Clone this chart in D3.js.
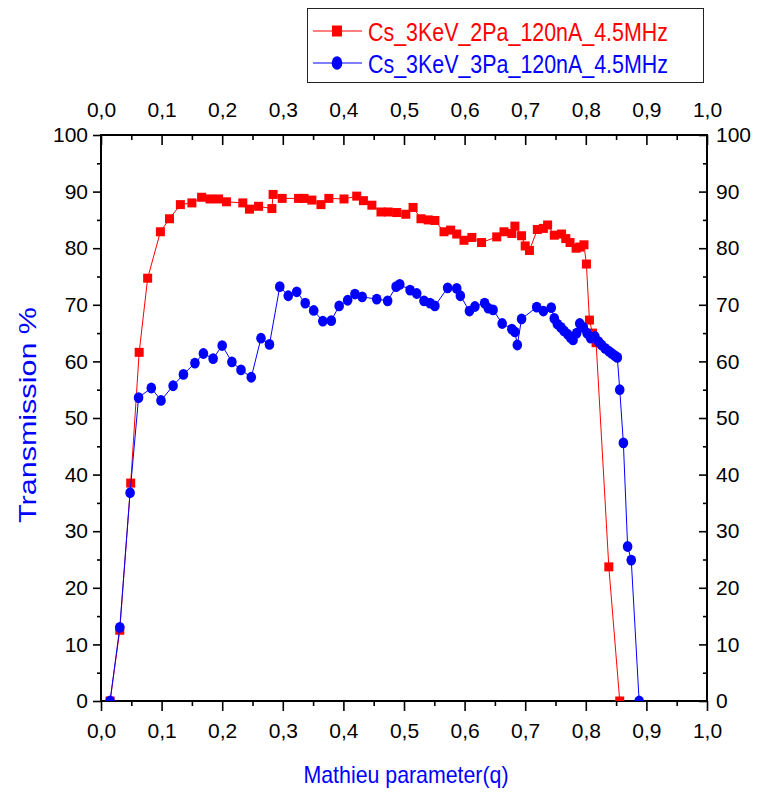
<!DOCTYPE html>
<html>
<head>
<meta charset="utf-8">
<script src="https://cdn.jsdelivr.net/npm/d3@7"></script>
<style>
  body { margin: 0; background: #fff; }
  svg { display: block; }
</style>
</head>
<body>
<script>
// Series values (q, transmission %)
const redQ = [0.015, 0.031, 0.049, 0.063, 0.077, 0.098, 0.113, 0.131, 0.150, 0.166, 0.180, 0.194, 0.207, 0.234, 0.245, 0.260, 0.282, 0.284, 0.299, 0.326, 0.335, 0.348, 0.363, 0.376, 0.401, 0.422, 0.433, 0.447, 0.462, 0.474, 0.488, 0.503, 0.515, 0.528, 0.540, 0.551, 0.566, 0.577, 0.587, 0.599, 0.612, 0.628, 0.653, 0.665, 0.678, 0.683, 0.694, 0.700, 0.707, 0.720, 0.730, 0.737, 0.748, 0.760, 0.767, 0.774, 0.784, 0.790, 0.797, 0.801, 0.806, 0.811, 0.817, 0.838, 0.856];
const redT = [0, 12.5, 38.5, 61.6, 74.7, 82.9, 85.2, 87.7, 88.0, 89.0, 88.7, 88.7, 88.2, 88.0, 86.9, 87.4, 87.0, 89.5, 88.8, 88.8, 88.8, 88.5, 87.7, 88.8, 88.7, 89.2, 88.4, 87.6, 86.4, 86.4, 86.3, 86.0, 87.2, 85.2, 85.0, 84.9, 82.9, 83.2, 82.5, 81.4, 81.9, 81.0, 82.0, 82.9, 82.6, 83.9, 82.2, 80.4, 79.6, 83.3, 83.5, 84.1, 82.3, 82.5, 81.7, 81.0, 80.0, 80.2, 80.6, 77.2, 67.3, 65.0, 63.3, 23.7, 0];

const blueQ = [0.015, 0.031, 0.048, 0.062, 0.083, 0.099, 0.119, 0.136, 0.155, 0.169, 0.185, 0.200, 0.216, 0.231, 0.248, 0.264, 0.278, 0.295, 0.309, 0.323, 0.337, 0.351, 0.366, 0.380, 0.393, 0.407, 0.419, 0.431, 0.455, 0.473, 0.487, 0.493, 0.510, 0.521, 0.533, 0.543, 0.551, 0.572, 0.587, 0.593, 0.608, 0.617, 0.633, 0.639, 0.647, 0.662, 0.678, 0.683, 0.687, 0.694, 0.719, 0.730, 0.743, 0.748, 0.753, 0.759, 0.764, 0.770, 0.775, 0.779, 0.785, 0.790, 0.796, 0.802, 0.808, 0.815, 0.821, 0.826, 0.832, 0.838, 0.843, 0.848, 0.852, 0.856, 0.862, 0.869, 0.875, 0.888];
const blueT = [0, 13.0, 36.8, 53.6, 55.3, 53.1, 55.7, 57.7, 59.7, 61.4, 60.5, 62.8, 59.9, 58.5, 57.2, 64.1, 63.0, 73.2, 71.6, 72.3, 70.3, 69.0, 67.1, 67.2, 69.8, 70.8, 71.9, 71.4, 71.0, 70.7, 73.2, 73.6, 72.6, 72.0, 70.7, 70.3, 69.8, 73.0, 72.9, 71.6, 68.9, 69.7, 70.3, 69.4, 69.1, 66.7, 65.7, 65.2, 62.9, 67.5, 69.6, 68.9, 69.5, 67.6, 66.6, 66.0, 65.4, 64.8, 64.2, 63.8, 65.0, 66.7, 66.0, 65.0, 64.1, 64.4, 63.5, 62.9, 62.3, 61.8, 61.4, 61.0, 60.7, 55.0, 45.6, 27.3, 24.9, 0];

const seriesNames = ["Cs_3KeV_2Pa_120nA_4.5MHz", "Cs_3KeV_3Pa_120nA_4.5MHz"];
const xTicks = [0, 0.1, 0.2, 0.3, 0.4, 0.5, 0.6, 0.7, 0.8, 0.9, 1.0];
const xTickLabels = ["0,0", "0,1", "0,2", "0,3", "0,4", "0,5", "0,6", "0,7", "0,8", "0,9", "1,0"];
const yTicks = [0, 10, 20, 30, 40, 50, 60, 70, 80, 90, 100];
const yTickLabels = ["0", "10", "20", "30", "40", "50", "60", "70", "80", "90", "100"];

const W = 758, H = 793;
const margin = { top: 135, right: 51, bottom: 92, left: 101 };
const pw = W - margin.left - margin.right;
const ph = H - margin.top - margin.bottom;
const font = "'Liberation Sans', Arial, sans-serif";

const svg = d3.select("body").append("svg")
    .attr("width", W)
    .attr("height", H);

const x = d3.scaleLinear().domain([0, 1]).range([0, pw]);
const y = d3.scaleLinear().domain([0, 100]).range([ph, 0]);

const g = svg.append("g").attr("transform", `translate(${margin.left},${margin.top})`);

svg.append("defs").append("clipPath").attr("id", "clip")
    .append("rect").attr("width", pw).attr("height", ph);

const minorX = d3.range(0.05, 1, 0.1);
const minorY = d3.range(5, 100, 10);

function styleAxis(sel) {
    sel.select(".domain").remove();
    sel.selectAll("line").attr("stroke", "#000").attr("stroke-width", 1.6);
    sel.selectAll("text")
        .attr("font-family", font)
        .attr("font-size", 21)
        .attr("fill", "#000");
}

// bottom
g.append("g").attr("transform", `translate(0,${ph})`)
    .call(d3.axisBottom(x).tickValues(xTicks).tickSize(10).tickPadding(12)
        .tickFormat((d, i) => xTickLabels[i]))
    .call(styleAxis);
g.append("g").attr("transform", `translate(0,${ph})`)
    .call(d3.axisBottom(x).tickValues(minorX).tickSize(5).tickFormat(""))
    .call(styleAxis);

// top
g.append("g")
    .call(d3.axisTop(x).tickValues(xTicks).tickSize(-10).tickPadding(18)
        .tickFormat((d, i) => xTickLabels[i]))
    .call(styleAxis);
g.append("g")
    .call(d3.axisTop(x).tickValues(minorX).tickSize(-5).tickFormat(""))
    .call(styleAxis);

// left
g.append("g")
    .call(d3.axisLeft(y).tickValues(yTicks).tickSize(8).tickPadding(5)
        .tickFormat((d, i) => yTickLabels[i]))
    .call(styleAxis);
g.append("g")
    .call(d3.axisLeft(y).tickValues(minorY).tickSize(4).tickFormat(""))
    .call(styleAxis);

// right
g.append("g").attr("transform", `translate(${pw},0)`)
    .call(d3.axisRight(y).tickValues(yTicks).tickSize(-8).tickPadding(9)
        .tickFormat((d, i) => yTickLabels[i]))
    .call(styleAxis);
g.append("g").attr("transform", `translate(${pw},0)`)
    .call(d3.axisRight(y).tickValues(minorY).tickSize(-4).tickFormat(""))
    .call(styleAxis);

// frame
g.append("rect")
    .attr("width", pw).attr("height", ph)
    .attr("fill", "none").attr("stroke", "#000").attr("stroke-width", 2);

const red = redQ.map((q, i) => ({ q, t: redT[i] }));
const blue = blueQ.map((q, i) => ({ q, t: blueT[i] }));

const line = d3.line().x(d => x(d.q)).y(d => y(d.t));

const plot = g.append("g").attr("clip-path", "url(#clip)");

plot.append("path").datum(red)
    .attr("d", line).attr("fill", "none").attr("stroke", "#ff0000").attr("stroke-width", 1);
plot.selectAll(".sq").data(red).enter().append("rect")
    .attr("class", "sq")
    .attr("x", d => x(d.q) - 4.5).attr("y", d => y(d.t) - 4.5)
    .attr("width", 9).attr("height", 9)
    .attr("fill", "#ff0000");

plot.append("path").datum(blue)
    .attr("d", line).attr("fill", "none").attr("stroke", "#0000ff").attr("stroke-width", 1);
plot.selectAll(".ci").data(blue).enter().append("ellipse")
    .attr("class", "ci")
    .attr("cx", d => x(d.q)).attr("cy", d => y(d.t))
    .attr("rx", 4.8).attr("ry", 5.4)
    .attr("fill", "#0000ff");

// axis titles
svg.append("text")
    .attr("x", margin.left + pw / 2 + 2).attr("y", 783)
    .attr("text-anchor", "middle")
    .attr("font-family", font).attr("font-size", 24)
    .attr("textLength", 205).attr("lengthAdjust", "spacingAndGlyphs")
    .attr("fill", "#0000ff")
    .text("Mathieu parameter(q)");

svg.append("text")
    .attr("transform", "translate(36,415) rotate(-90)")
    .attr("text-anchor", "middle")
    .attr("font-family", font).attr("font-size", 24)
    .attr("textLength", 216).attr("lengthAdjust", "spacingAndGlyphs")
    .attr("fill", "#0000ff")
    .text("Transmission %");

// legend
const leg = svg.append("g");
leg.append("rect")
    .attr("x", 307.5).attr("y", 8.5).attr("width", 396).attr("height", 74)
    .attr("fill", "#fff").attr("stroke", "#222").attr("stroke-width", 1);

const legColors = ["#ff0000", "#0000ff"];
const legY = [31, 63];
seriesNames.forEach((name, i) => {
    leg.append("line")
        .attr("x1", 313).attr("x2", 362).attr("y1", legY[i]).attr("y2", legY[i])
        .attr("stroke", legColors[i]).attr("stroke-width", 1);
    if (i === 0) {
        leg.append("rect")
            .attr("x", 332).attr("y", legY[i] - 5.5).attr("width", 10).attr("height", 11)
            .attr("fill", legColors[i]);
    } else {
        leg.append("ellipse")
            .attr("cx", 337).attr("cy", legY[i]).attr("rx", 5.3).attr("ry", 6.8)
            .attr("fill", legColors[i]);
    }
    leg.append("text")
        .attr("x", 368).attr("y", legY[i] + 9.5)
        .attr("font-family", font).attr("font-size", 26)
        .attr("textLength", 300).attr("lengthAdjust", "spacingAndGlyphs")
        .attr("fill", legColors[i])
        .text(name);
});
</script>
</body>
</html>
